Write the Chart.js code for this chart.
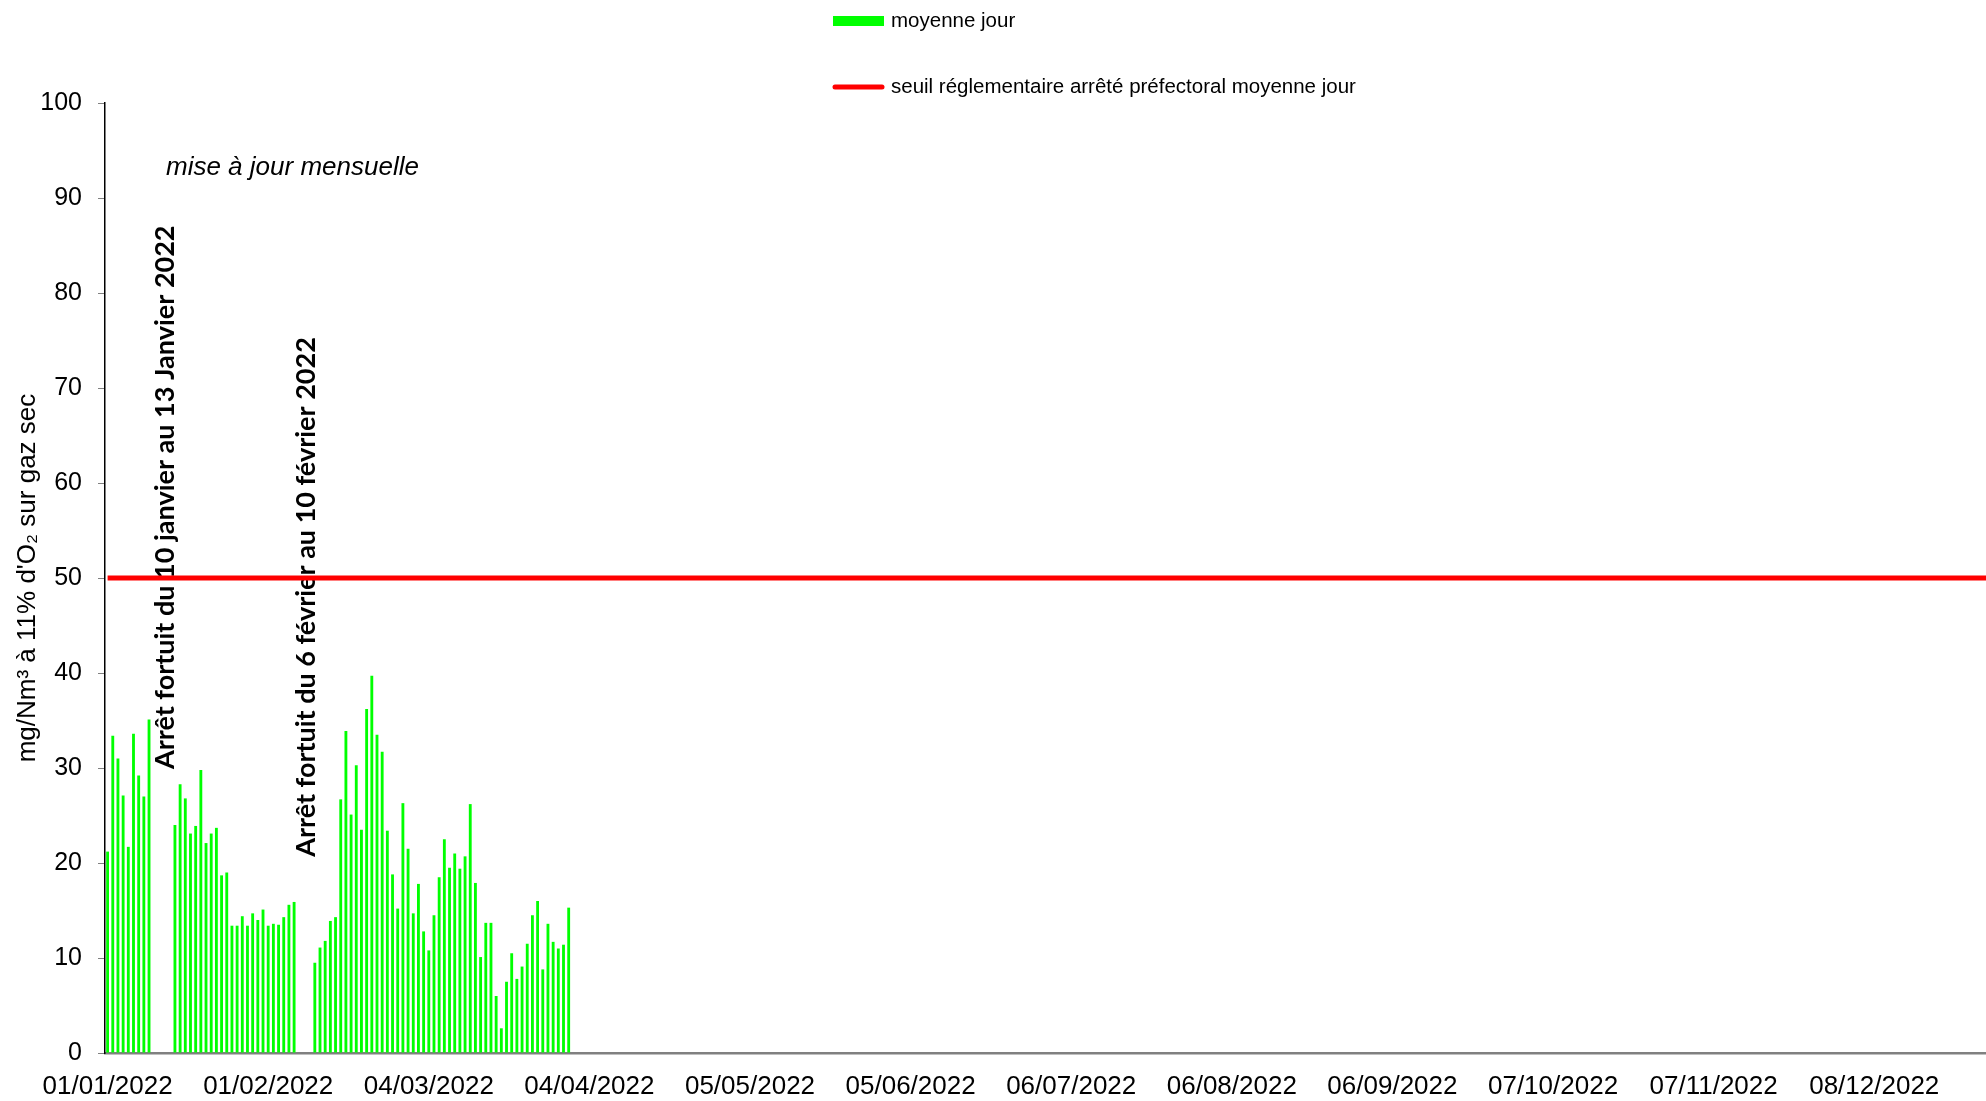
<!DOCTYPE html>
<html lang="fr">
<head>
<meta charset="utf-8">
<title>moyenne jour</title>
<script src="https://cdn.jsdelivr.net/npm/chart.js@4.4.0/dist/chart.umd.min.js"></script>
<style>
  html, body { margin: 0; padding: 0; background: #fff; overflow: hidden; }
  #chart { display: block; }
</style>
</head>
<body>
<canvas id="chart" width="1996" height="1101"></canvas>
<script>
// dates written under the x axis
const tickDates = ['01/01/2022', '01/02/2022', '04/03/2022', '04/04/2022', '05/05/2022', '05/06/2022',
    '06/07/2022', '06/08/2022', '06/09/2022', '07/10/2022', '07/11/2022', '08/12/2022'];

// moyenne jour from 01/01/2022 to 31/03/2022, null = arret
const janvier = [21.2, 33.4, 31.0, 27.1, 21.7, 33.6, 29.2, 27.0, 35.1,
    null, null, null, null,
    24.0, 28.3, 26.8, 23.1, 23.9, 29.8, 22.1, 23.1, 23.7, 18.7, 19.0, 13.4, 13.4, 14.4, 13.4, 14.7, 14.0, 15.1];
const fevrier = [13.4, 13.6, 13.5, 14.3, 15.6, 15.9,
    null, null, null,
    9.5, 11.1, 11.8, 13.9, 14.3, 26.7, 33.9, 25.1, 30.3, 23.5, 36.2, 39.7, 33.5, 31.7, 23.4, 18.8, 15.2, 26.3, 21.5, 14.7];
const mars = [17.8, 12.8, 10.8, 14.5, 18.5, 22.5, 19.5, 21.0, 19.4, 20.7, 26.2, 17.9, 10.1, 13.7, 13.7, 6.0,
    2.6, 7.5, 10.5, 7.8, 9.1, 11.5, 14.5, 16.0, 8.8, 13.6, 11.7, 11.0, 11.4, 15.3];
const moyenneJour = [...janvier, ...fevrier, ...mars];

// seuil reglementaire (mg/Nm3)
const seuil = 50;

// every day of 2022 is one category
const days = [];
for (let d = new Date(2022, 0, 1); d.getFullYear() === 2022; d.setDate(d.getDate() + 1)) {
    days.push(String(d.getDate()).padStart(2, '0') + '/' + String(d.getMonth() + 1).padStart(2, '0') + '/2022');
}

// vertical notes, placed in data space (day index, value at the middle of the text)
const notes = [
    { text: 'Arrêt fortuit du 10 janvier au 13 Janvier 2022', day: 11.05, value: 58.5, len: 545 },
    { text: 'Arrêt fortuit du 6 février au 10 février 2022', day: 38.4, value: 48.0, len: 523 }
];

const ARIAL = '"Liberation Sans", Arial, sans-serif';

// texts and legend drawn by hand
const extras = {
    id: 'extras',
    beforeDatasetsDraw(chart) {
        const { ctx, scales: { x, y } } = chart;
        ctx.save();
        ctx.fillStyle = '#000';
        ctx.font = 'bold 27px Lato, "Open Sans", sans-serif';
        ctx.textAlign = 'center';
        ctx.textBaseline = 'middle';
        notes.forEach(n => {
            ctx.save();
            ctx.translate(x.getPixelForValue(n.day), y.getPixelForValue(n.value));
            ctx.rotate(-Math.PI / 2);
            ctx.fillText(n.text, 0, 0, n.len);
            ctx.restore();
        });
        ctx.font = 'italic 26px ' + ARIAL;
        ctx.textAlign = 'left';
        ctx.fillText('mise à jour mensuelle', 166, 168);
        ctx.restore();
    },
    afterDraw(chart) {
        const ctx = chart.ctx;
        ctx.save();
        ctx.fillStyle = '#00ff00';
        ctx.fillRect(833, 16, 51, 10);
        ctx.strokeStyle = '#ff0000';
        ctx.lineWidth = 5;
        ctx.lineCap = 'round';
        ctx.beginPath();
        ctx.moveTo(835, 87);
        ctx.lineTo(882, 87);
        ctx.stroke();
        ctx.fillStyle = '#000';
        ctx.font = '20.5px ' + ARIAL;
        ctx.textBaseline = 'middle';
        ctx.fillText(chart.data.datasets[0].label, 891, 21);
        ctx.fillText(chart.data.datasets[1].label, 891, 87);
        ctx.restore();
    }
};

let ctx = document.getElementById('chart').getContext('2d');

let emissionChart = new Chart(ctx, {
    type: 'bar',
    data: {
        labels: days,
        datasets: [{
            label: 'moyenne jour',
            data: moyenneJour,
            backgroundColor: '#00ff00',
            barPercentage: 0.55,
            categoryPercentage: 1.0,
            order: 2
        }, {
            type: 'line',
            label: 'seuil réglementaire arrêté préfectoral moyenne jour',
            data: days.map(() => seuil),
            borderColor: '#ff0000',
            borderWidth: 5,
            pointRadius: 0,
            order: 1
        }]
    },
    options: {
        responsive: false,
        animation: false,
        layout: { padding: { top: 103, left: 0, right: 0, bottom: 0 } },
        plugins: {
            legend: { display: false },
            tooltip: { enabled: false }
        },
        scales: {
            x: {
                offset: true,
                // invisible tick marks give the gap above the dates
                grid: { drawOnChartArea: false, drawTicks: true, tickLength: 18, tickColor: 'rgba(0,0,0,0)' },
                border: { color: '#808080', width: 2.5 },
                ticks: {
                    autoSkip: false,
                    maxRotation: 0,
                    minRotation: 0,
                    padding: 0,
                    color: '#000',
                    font: { family: ARIAL, size: 26 },
                    callback: function(value) {
                        const l = this.getLabelForValue(value);
                        return tickDates.includes(l) ? l : '';
                    }
                },
                afterFit: scale => { scale.height = 48; }
            },
            y: {
                min: 0,
                max: 100,
                ticks: { stepSize: 10, padding: 16, color: '#000', font: { family: ARIAL, size: 25 } },
                grid: { drawOnChartArea: false, drawTicks: true, tickLength: 7, tickColor: '#808080' },
                border: { color: '#000', width: 1.5 },
                title: {
                    display: true,
                    text: "mg/Nm³ à 11% d'O₂ sur gaz sec",
                    color: '#000',
                    font: { family: ARIAL, size: 26 },
                    padding: { top: 12, bottom: 0 }
                },
                afterFit: scale => { scale.width = 105; }
            }
        }
    },
    plugins: [extras]
});
</script>
</body>
</html>
